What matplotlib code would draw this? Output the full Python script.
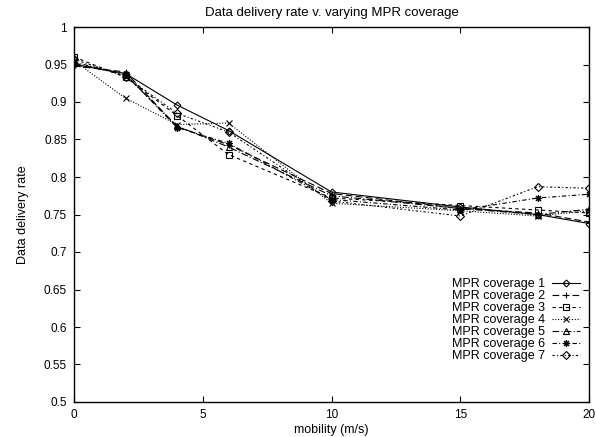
import matplotlib
matplotlib.use("Agg")
import matplotlib.pyplot as plt

plt.rcParams['font.family'] = ['Liberation Sans', 'DejaVu Sans']

mobility = [0, 2, 4, 6, 10, 15, 18, 20]
cov1 = [0.950, 0.938, 0.896, 0.862, 0.780, 0.760, 0.750, 0.738]
cov2 = [0.948, 0.940, 0.867, 0.843, 0.778, 0.758, 0.752, 0.740]
cov3 = [0.960, 0.933, 0.882, 0.830, 0.772, 0.762, 0.756, 0.752]
cov4 = [0.955, 0.905, 0.870, 0.872, 0.765, 0.755, 0.748, 0.755]
cov5 = [0.952, 0.936, 0.868, 0.840, 0.775, 0.758, 0.750, 0.757]
cov6 = [0.953, 0.937, 0.866, 0.845, 0.770, 0.756, 0.772, 0.777]
cov7 = [0.957, 0.934, 0.885, 0.860, 0.768, 0.748, 0.787, 0.785]
labels = ["MPR coverage %d" % i for i in range(1, 8)]
series = [cov1, cov2, cov3, cov4, cov5, cov6, cov7]

styles = [
    dict(ls='-', marker='D', ms=3.5, mfc='none'),
    dict(ls=(0, (6, 3)), marker='+', ms=5),
    dict(ls=(0, (3, 3)), marker='s', ms=4, mfc='none'),
    dict(ls=(0, (1, 1.5)), marker='x', ms=4),
    dict(ls=(0, (6, 2, 1, 2)), marker='^', ms=4, mfc='none'),
    dict(ls=(0, (4, 2, 1, 2)), marker=(8, 2, 0), ms=5),
    dict(ls=(0, (2, 2, 1, 2)), marker='D', ms=4, mfc='none'),
]

fig = plt.figure(figsize=(5.96, 4.37), dpi=100)
ax = fig.add_axes([74/596, 1-402/437, (589-74)/596, (402-27)/437])
for y, lab, st in zip(series, labels, styles):
    ax.plot(mobility, y, color='black', lw=0.8, label=lab, mew=0.8, **st)

ax.set_xlim(0, 20)
ax.set_ylim(0.5, 1.0)
ax.set_xticks([0, 5, 10, 15, 20])
ax.set_yticks([0.5 + 0.05*i for i in range(11)])
ax.set_yticklabels(['0.5', '0.55', '0.6', '0.65', '0.7', '0.75', '0.8', '0.85', '0.9', '0.95', '1'])
ax.tick_params(direction='in', top=True, right=True, labelsize=8.5, length=4, width=0.8, pad=5)
for s in ax.spines.values():
    s.set_linewidth(1.0)
ax.set_title("Data delivery rate v. varying MPR coverage", fontsize=9.5, pad=8)
ax.set_xlabel("mobility (m/s)", fontsize=9, labelpad=2)
ax.set_ylabel("Data delivery rate", fontsize=9, labelpad=11)
ax.legend(loc='lower right', bbox_to_anchor=(0.993, 0.093), frameon=False, fontsize=9,
          markerfirst=False, handlelength=2.3, labelspacing=0.0, handletextpad=0.5,
          numpoints=1, borderaxespad=0.0)
fig.savefig("out.png", dpi=100)
